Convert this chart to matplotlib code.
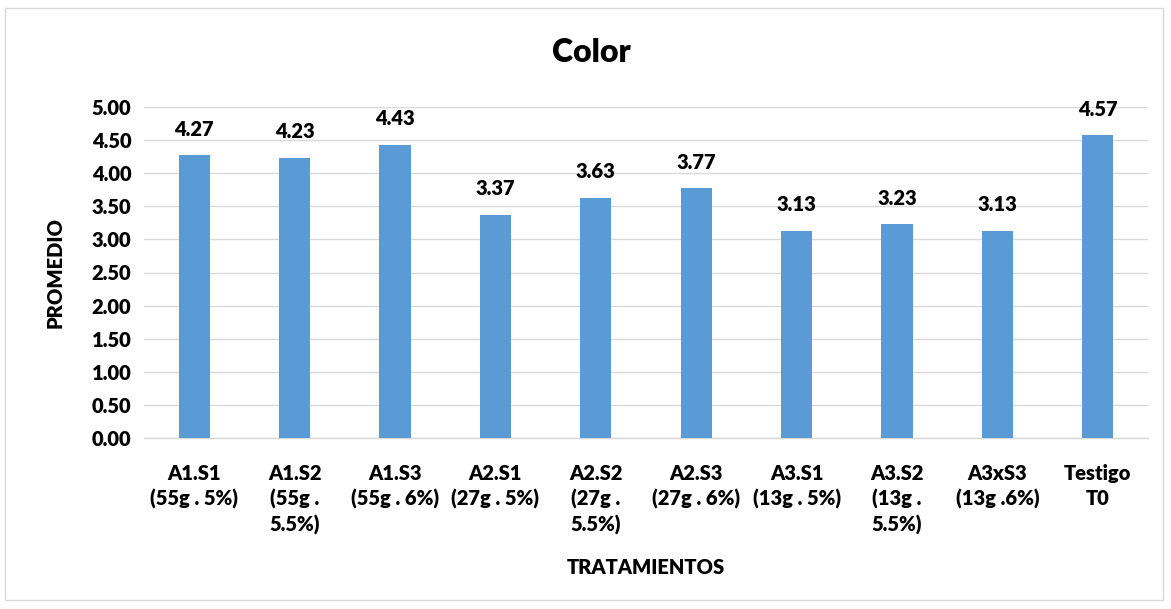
import matplotlib
matplotlib.use("Agg")
import matplotlib.pyplot as plt
from matplotlib import font_manager
from matplotlib.patches import Rectangle

categories = [
    "A1.S1\n(55g . 5%)", "A1.S2\n(55g .\n5.5%)", "A1.S3\n(55g . 6%)",
    "A2.S1\n(27g . 5%)", "A2.S2\n(27g .\n5.5%)", "A2.S3\n(27g . 6%)",
    "A3.S1\n(13g . 5%)", "A3.S2\n(13g .\n5.5%)", "A3xS3\n(13g .6%)",
    "Testigo\nT0",
]
promedio = [4.27, 4.23, 4.43, 3.37, 3.63, 3.77, 3.13, 3.23, 3.13, 4.57]
yticks = [0.0, 0.5, 1.0, 1.5, 2.0, 2.5, 3.0, 3.5, 4.0, 4.5, 5.0]


def pick_heavy_family(candidates):
    for fam in candidates:
        try:
            path = font_manager.findfont(
                font_manager.FontProperties(family=fam, weight="heavy"),
                fallback_to_default=False)
        except Exception:
            continue
        low = path.lower()
        if "bold" in low or "heavy" in low or "black" in low:
            return fam
    return "DejaVu Sans"


family = pick_heavy_family(["Lato", "Open Sans", "Noto Sans", "Roboto", "Liberation Sans"])
plt.rcParams["font.family"] = [family, "DejaVu Sans"]
WT = "heavy"
FS = 14.5

W, H = 1171, 609
fig = plt.figure(figsize=(W / 100, H / 100), dpi=100)
ax = fig.add_axes([144 / W, 1 - 438 / H, (1148 - 144) / W, (438 - 107) / H])

x = range(len(categories))
bars = ax.bar(x, promedio, width=0.31, color="#5B9BD5", zorder=3)
for b, v in zip(bars, promedio):
    ax.annotate(f"{v:.2f}", (b.get_x() + b.get_width() / 2, v),
                xytext=(0, 26), textcoords="offset pixels",
                ha="center", va="center", fontsize=FS, fontweight=WT)

ax.set_xlim(-0.5, len(categories) - 0.5)
ax.set_ylim(0, 5)
ax.set_yticks(yticks)
ax.set_yticklabels([f"{t:.2f}" for t in yticks], fontsize=FS, fontweight=WT)
ax.set_xticks(list(x))
ax.set_xticklabels(categories, fontsize=FS, fontweight=WT, linespacing=1.35)
ax.tick_params(axis="y", length=0, pad=9)
ax.tick_params(axis="x", length=0, pad=19)
ax.grid(axis="y", color="#D9D9D9", linewidth=1, zorder=0)
for s in ["top", "right", "left"]:
    ax.spines[s].set_visible(False)
ax.spines["bottom"].set_color("#D9D9D9")
ax.spines["bottom"].set_linewidth(1)

fig.text(591 / W, 1 - 52 / H, "Color", ha="center", va="center",
         fontsize=23, fontweight=WT)
fig.text(55 / W, 1 - 273 / H, "PROMEDIO", rotation=90, ha="center", va="center",
         fontsize=FS, fontweight=WT)
fig.text(646 / W, 1 - 568 / H, "TRATAMIENTOS", ha="center", va="center",
         fontsize=FS, fontweight=WT)

fig.patches.append(Rectangle((5 / W, 1 - 600 / H), (1163 - 5) / W, (600 - 8) / H,
                             transform=fig.transFigure, fill=False,
                             edgecolor="#D9D9D9", linewidth=1))

fig.savefig("out.png", dpi=100, facecolor="white")
